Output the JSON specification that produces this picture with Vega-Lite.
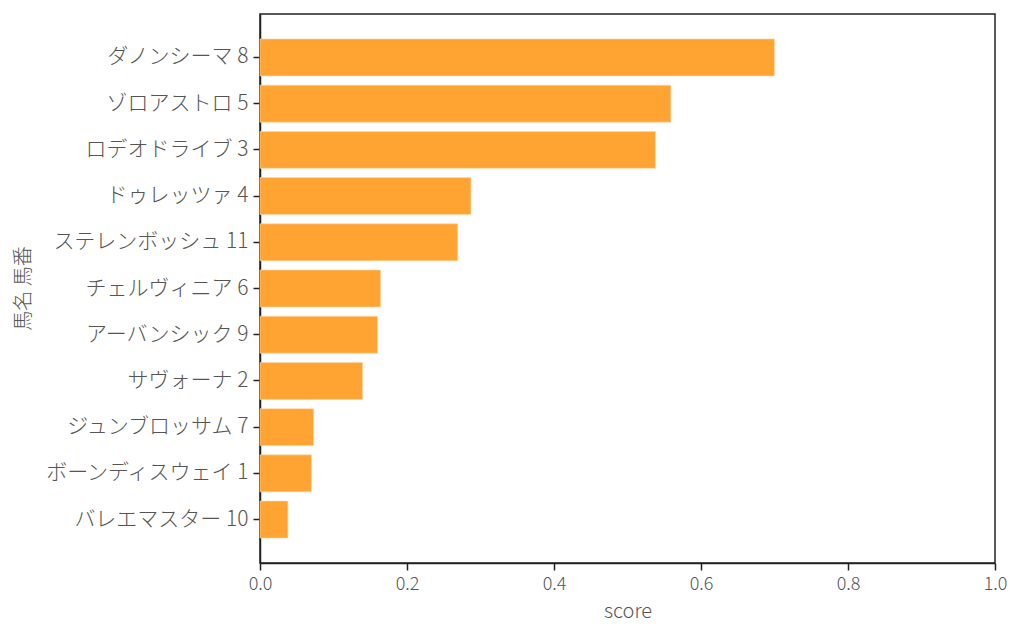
{
  "$schema": "https://vega.github.io/schema/vega-lite/v6.json",
  "background": "white",
  "autosize": {"type": "none"},
  "padding": {"left": 260, "top": 14, "right": 29, "bottom": 81},
  "width": 735,
  "height": 549,
  "data": {
    "values": [
      {"horse": "ダノンシーマ 8", "score": 0.700},
      {"horse": "ゾロアストロ 5", "score": 0.559},
      {"horse": "ロデオドライブ 3", "score": 0.538},
      {"horse": "ドゥレッツァ 4", "score": 0.287},
      {"horse": "ステレンボッシュ 11", "score": 0.269},
      {"horse": "チェルヴィニア 6", "score": 0.164},
      {"horse": "アーバンシック 9", "score": 0.160},
      {"horse": "サヴォーナ 2", "score": 0.1395},
      {"horse": "ジュンブロッサム 7", "score": 0.073},
      {"horse": "ボーンディスウェイ 1", "score": 0.070},
      {"horse": "バレエマスター 10", "score": 0.038}
    ]
  },
  "config": {
    "view": {"stroke": "#222222", "strokeWidth": 1.5},
    "font": "Noto Sans CJK JP",
    "axis": {
      "grid": false,
      "domainColor": "#222222",
      "domainWidth": 1.5,
      "tickColor": "#222222",
      "tickWidth": 1.5,
      "tickSize": 7,
      "labelFont": "Noto Sans CJK JP",
      "labelFontSize": 21,
      "labelFontWeight": 300,
      "labelColor": "#555555",
      "labelLimit": 400,
      "titleFont": "Noto Sans CJK JP",
      "titleFontSize": 20,
      "titleFontWeight": 300,
      "titleColor": "#555555"
    }
  },
  "mark": {"type": "bar", "color": "#FFA333", "stroke": "#FFD9A8", "strokeWidth": 0.6},
  "encoding": {
    "y": {
      "field": "horse",
      "type": "nominal",
      "sort": "-x",
      "title": "馬名 馬番",
      "scale": {"paddingInner": 0.2, "paddingOuter": 0.54},
      "axis": {"labelPadding": 5, "titleX": -227, "titleY": 274, "titleAngle": 270, "titleAlign": "center", "titleBaseline": "bottom"}
    },
    "x": {
      "field": "score",
      "type": "quantitative",
      "title": "score",
      "scale": {"domain": [0, 1], "nice": false},
      "axis": {"values": [0, 0.2, 0.4, 0.6, 0.8, 1.0], "format": ".1f", "labelFlush": false, "labelFontSize": 18, "labelPadding": 5, "titlePadding": 8}
    }
  }
}
